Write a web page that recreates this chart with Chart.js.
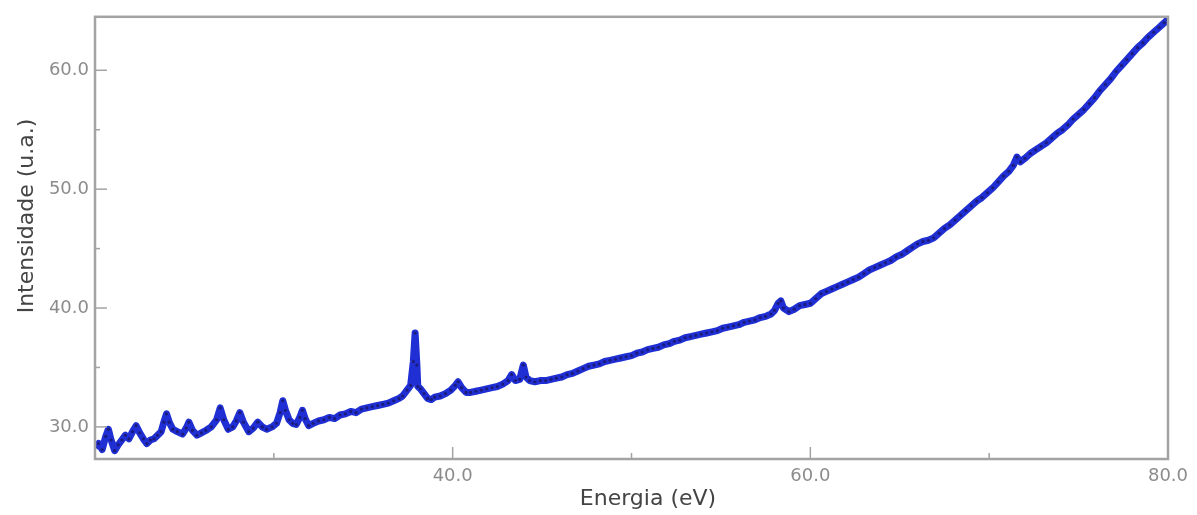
<!DOCTYPE html>
<html>
<head>
<meta charset="utf-8">
<script src="https://cdn.jsdelivr.net/npm/chart.js@4"></script>
<style>
	body { margin: 0; background: #fff; }
	#wrap { width: 1197px; height: 515px; }
</style>
</head>
<body>
<div id="wrap"><canvas id="myChart" width="1197" height="515"></canvas></div>
<script>
// values (eV, u.a.)
const energy = [
	20.0, 20.2, 20.4, 20.6, 20.75, 20.9, 21.1, 21.3, 21.5, 21.7, 21.9, 22.1, 22.3, 22.5, 22.7, 22.9,
	23.1, 23.3, 23.5, 23.7, 23.85, 24.0, 24.15, 24.35, 24.6, 24.9, 25.1, 25.25, 25.45, 25.7, 25.95,
	26.2, 26.5, 26.8, 27.0, 27.2, 27.45, 27.7, 27.9, 28.1, 28.3, 28.6, 28.85, 29.1, 29.35, 29.6, 29.9,
	30.15, 30.35, 30.5, 30.65, 30.85, 31.05, 31.25, 31.45, 31.6, 31.75, 31.95, 32.2, 32.5, 32.8, 33.1,
	33.4, 33.7, 34.0, 34.3, 34.6, 34.9, 35.2, 35.5, 35.8, 36.1, 36.4, 36.7, 37.0, 37.2, 37.45, 37.65,
	37.8, 37.9, 38.0, 38.05, 38.2, 38.4, 38.6, 38.8, 39.0, 39.3, 39.6, 39.9, 40.15, 40.3, 40.5, 40.75,
	41.0, 41.3, 41.6, 41.9, 42.2, 42.5, 42.8, 43.1, 43.3, 43.5, 43.75, 43.95, 44.1, 44.3, 44.6, 44.9,
	45.2, 45.5, 45.8, 46.1, 46.4, 46.7, 47.0, 47.3, 47.6, 47.9, 48.2, 48.5, 48.8, 49.1, 49.4, 49.7,
	50.0, 50.3, 50.6, 50.9, 51.2, 51.5, 51.8, 52.1, 52.4, 52.7, 53.0, 53.3, 53.6, 53.9, 54.2, 54.5,
	54.8, 55.1, 55.4, 55.7, 56.0, 56.3, 56.6, 56.9, 57.2, 57.5, 57.8, 58.0, 58.2, 58.35, 58.5, 58.8,
	59.1, 59.4, 59.7, 60.0, 60.3, 60.6, 60.9, 61.2, 61.5, 61.8, 62.1, 62.4, 62.7, 63.0, 63.3, 63.6,
	63.9, 64.2, 64.5, 64.8, 65.1, 65.4, 65.7, 66.0, 66.3, 66.6, 66.9, 67.2, 67.5, 67.8, 68.1, 68.4,
	68.7, 69.0, 69.3, 69.6, 69.9, 70.2, 70.5, 70.8, 71.1, 71.35, 71.55, 71.75, 72.0, 72.3, 72.6, 72.9,
	73.2, 73.5, 73.8, 74.1, 74.4, 74.7, 75.0, 75.3, 75.6, 75.9, 76.2, 76.5, 76.8, 77.1, 77.4, 77.7,
	78.0, 78.3, 78.6, 78.9, 79.2, 79.5, 79.8, 80.0
];
const intensity = [
	28.3, 28.6, 28.1, 29.2, 29.8, 28.9, 28.0, 28.5, 28.9, 29.3, 29.0, 29.6, 30.1, 29.5, 29.0, 28.6,
	28.9, 29.0, 29.3, 29.6, 30.4, 31.1, 30.4, 29.8, 29.6, 29.4, 29.9, 30.4, 29.7, 29.3, 29.5,
	29.7, 30.0, 30.6, 31.6, 30.6, 29.8, 30.0, 30.5, 31.2, 30.4, 29.6, 29.9, 30.4, 30.0, 29.8, 30.0,
	30.3, 31.2, 32.2, 31.4, 30.6, 30.3, 30.2, 30.8, 31.4, 30.7, 30.1, 30.3, 30.5, 30.6, 30.8,
	30.7, 31.0, 31.1, 31.3, 31.2, 31.5, 31.6, 31.7, 31.8, 31.9, 32.0, 32.2, 32.4, 32.6, 33.1, 33.5,
	35.5, 37.9, 35.2, 33.4, 33.2, 32.8, 32.4, 32.3, 32.5, 32.6, 32.8, 33.1, 33.5, 33.8, 33.3, 32.9,
	32.9, 33.0, 33.1, 33.2, 33.3, 33.4, 33.6, 33.9, 34.4, 33.9, 34.0, 35.2, 34.2, 33.9, 33.8, 33.9,
	33.9, 34.0, 34.1, 34.2, 34.4, 34.5, 34.7, 34.9, 35.1, 35.2, 35.3, 35.5, 35.6, 35.7, 35.8, 35.9,
	36.0, 36.2, 36.3, 36.5, 36.6, 36.7, 36.9, 37.0, 37.2, 37.3, 37.5, 37.6, 37.7, 37.8, 37.9, 38.0,
	38.1, 38.3, 38.4, 38.5, 38.6, 38.8, 38.9, 39.0, 39.2, 39.3, 39.5, 39.8, 40.4, 40.6, 40.0, 39.7,
	39.9, 40.2, 40.3, 40.4, 40.8, 41.2, 41.4, 41.6, 41.8, 42.0, 42.2, 42.4, 42.6, 42.9, 43.2, 43.4,
	43.6, 43.8, 44.0, 44.3, 44.5, 44.8, 45.1, 45.4, 45.6, 45.7, 45.9, 46.3, 46.7, 47.0, 47.4, 47.8,
	48.2, 48.6, 49.0, 49.3, 49.7, 50.1, 50.6, 51.1, 51.5, 52.0, 52.7, 52.3, 52.6, 53.0, 53.3, 53.6,
	53.9, 54.3, 54.7, 55.0, 55.4, 55.9, 56.3, 56.7, 57.2, 57.7, 58.3, 58.8, 59.3, 59.9, 60.4, 60.9,
	61.4, 61.9, 62.3, 62.8, 63.2, 63.6, 64.0, 64.3
];

const xMin = 20;
const xMax = 80;
const yMin = 27.3;
const yMax = 64.5;

const points = energy.map((e, i) => ({ x: e, y: intensity[i] }));

// box round the plot plus short inward ticks, as in the original software
const framePlugin = {
	id: "frame",
	afterDraw(chart) {
		const ctx = chart.ctx;
		const a = chart.chartArea;
		ctx.save();
		ctx.strokeStyle = "#a3a3a3";
		ctx.lineWidth = 1.5;
		chart.scales.y.ticks.forEach((t) => {
			if (t.value <= yMin || t.value >= yMax) return;
			const py = chart.scales.y.getPixelForValue(t.value);
			const len = t.value % 10 === 0 ? 12 : 5;
			ctx.beginPath();
			ctx.moveTo(a.left, py);
			ctx.lineTo(a.left + len, py);
			ctx.stroke();
		});
		chart.scales.x.ticks.forEach((t) => {
			if (t.value <= xMin || t.value >= xMax) return;
			const px = chart.scales.x.getPixelForValue(t.value);
			const len = t.value % 20 === 0 ? 12 : 6;
			ctx.beginPath();
			ctx.moveTo(px, a.bottom);
			ctx.lineTo(px, a.bottom - len);
			ctx.stroke();
		});
		ctx.lineWidth = 2.5;
		ctx.strokeRect(a.left, a.top, a.right - a.left, a.bottom - a.top);

		// axis titles
		ctx.fillStyle = "#444";
		ctx.font = "22px 'DejaVu Sans'";
		ctx.textAlign = "center";
		ctx.textBaseline = "middle";
		ctx.fillText("Energia (eV)", 648, 499);
		ctx.translate(27, 216);
		ctx.rotate(-Math.PI / 2);
		ctx.fillText("Intensidade (u.a.)", 0, 0);
		ctx.restore();
	},
};

const ctx = document.getElementById("myChart").getContext("2d");
const myChart = new Chart(ctx, {
	type: "scatter",
	data: {
		datasets: [
			{
				data: points,
				showLine: true,
				borderColor: "#1f2fd3",
				borderWidth: 7,
				borderJoinStyle: "round",
				tension: 0,
				pointRadius: 1.6,
				pointBackgroundColor: "#1b1b7a",
				pointBorderWidth: 0,
			},
		],
	},
	options: {
		responsive: false,
		animation: false,
		layout: { padding: { top: 14, right: 29, left: 0, bottom: 0 } },
		plugins: {
			legend: { display: false },
			tooltip: { enabled: false },
		},
		scales: {
			x: {
				type: "linear",
				min: xMin,
				max: xMax,
				grid: { display: false, drawTicks: false },
				border: { display: false },
				ticks: {
					stepSize: 10,
					autoSkip: false,
					maxRotation: 0,
					padding: 7,
					color: "#8c8c8c",
					font: { family: "DejaVu Sans", size: 18 },
					callback: (v) => (v > xMin && v % 20 === 0 ? v.toFixed(1) : ""),
				},
				afterFit: (s) => { s.height = 56; },
			},
			y: {
				min: yMin,
				max: yMax,
				grid: { display: false, drawTicks: false },
				border: { display: false },
				ticks: {
					stepSize: 5,
					includeBounds: false,
					autoSkip: false,
					padding: 6,
					color: "#8c8c8c",
					font: { family: "DejaVu Sans", size: 18 },
					callback: (v) => (v % 10 === 0 ? v.toFixed(1) : ""),
				},
				afterFit: (s) => { s.width = 95; },
			},
		},
	},
	plugins: [framePlugin],
});
</script>
</body>
</html>
